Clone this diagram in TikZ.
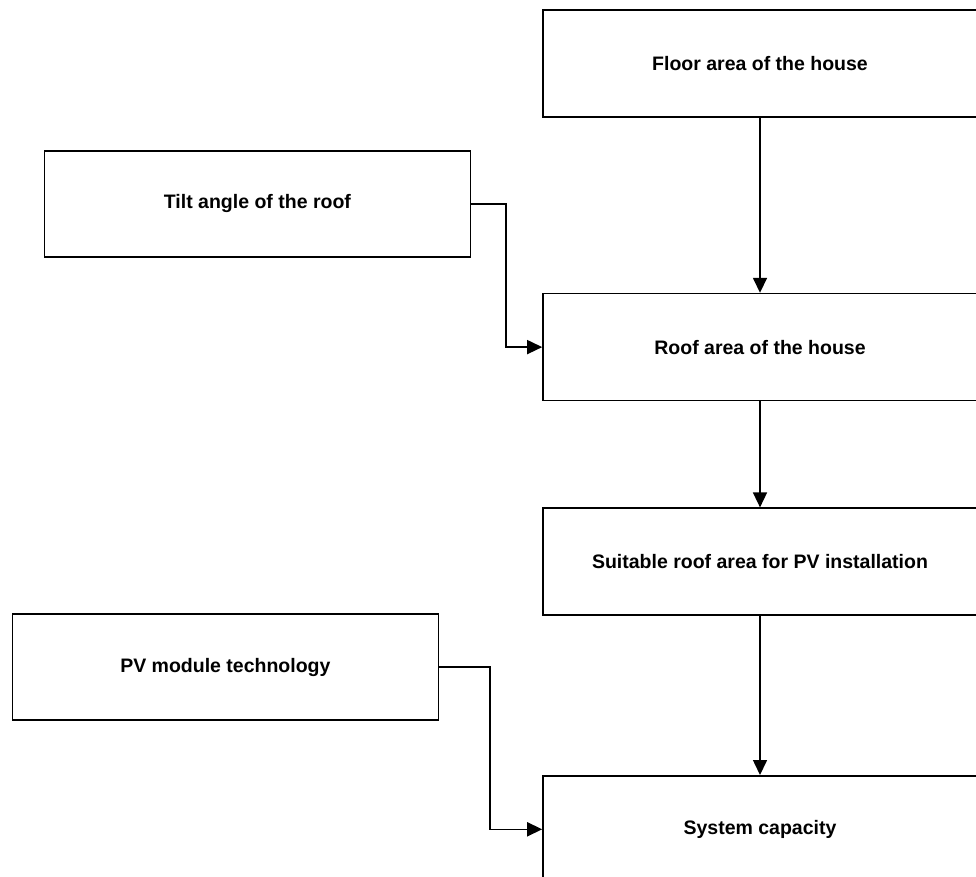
\documentclass[tikz,border=0pt]{standalone}
\usepackage{fontspec}
\setmainfont{Liberation Sans}
\usepackage{tikz}
\usetikzlibrary{positioning,arrows.meta}

\begin{document}
\begin{tikzpicture}[x=1pt, y=1pt,
    blk/.style={draw, line width=1.6pt, minimum width=434pt, minimum height=107pt,
                inner sep=0pt, align=center, font=\bfseries\fontsize{19.5}{23}\selectfont},
    inp/.style={blk, minimum width=426pt, minimum height=106pt},
    arr/.style={-{Triangle[length=15pt, width=14pt]}, line width=1.6pt}
]
\useasboundingbox (0,0) rectangle (976,-877);
\clip (0,0) rectangle (976,-877);
\node[blk] (floor) at (760,-63.5) {Floor area of the house};
\node[blk, below=175pt of floor] (roof) {Roof area of the house};
\node[blk, below=106pt of roof] (suit) {Suitable roof area for PV installation};
\node[blk, below=159pt of suit] (cap) {System capacity};
\node[inp, above left=35pt and 71pt of roof] (tilt) {Tilt angle of the roof};
\node[inp, above left=54pt and 103pt of cap] (pvtech) {PV module technology};

\draw[arr] (floor) -- (roof);
\draw[arr] (roof) -- (suit);
\draw[arr] (suit) -- (cap);
\draw[arr] (tilt.east) -- ++(35pt,0) |- (roof.west);
\draw[arr] (pvtech.east) -- ++(51pt,0) |- (cap.west);
\end{tikzpicture}
\end{document}
